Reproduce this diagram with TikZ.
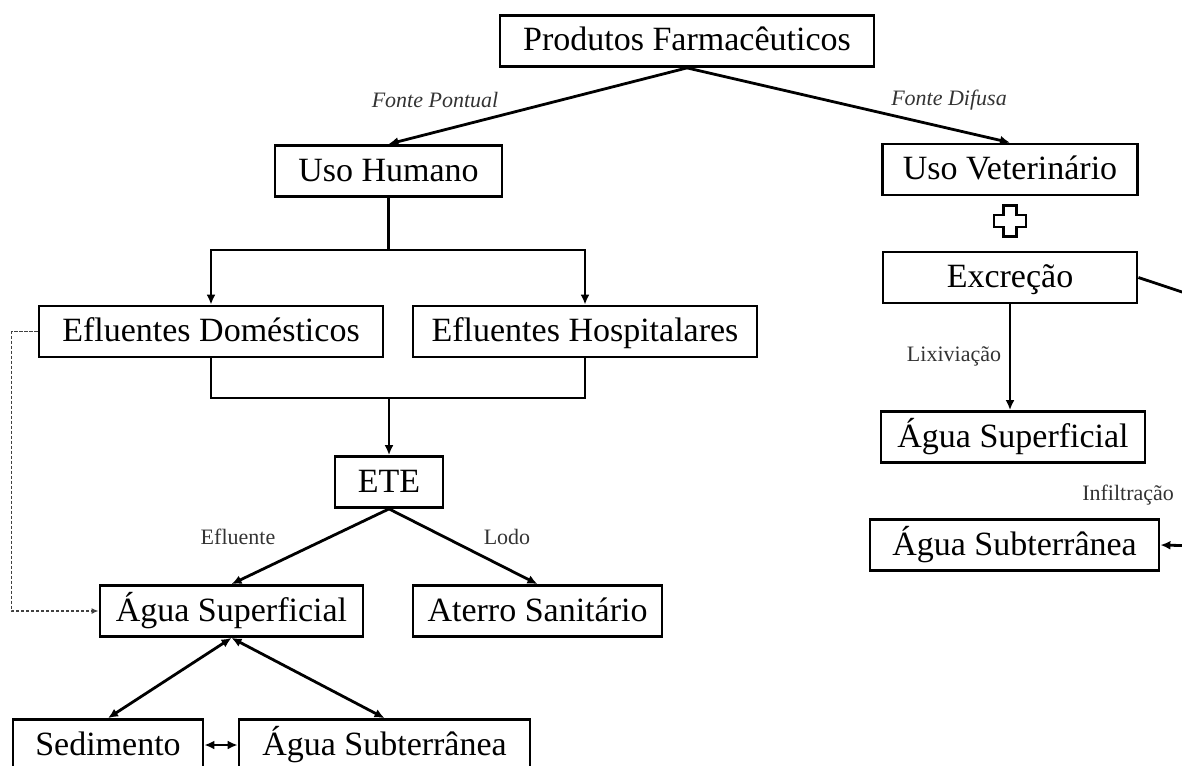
\documentclass[tikz,border=0pt]{standalone}
\usepackage{fontspec}
\setmainfont{Liberation Serif}
\usetikzlibrary{arrows.meta}

\begin{document}
\begin{tikzpicture}[x=0.5pt,y=-0.5pt,
    caixa/.style={draw,line width=1.4pt,minimum height=25.5pt,inner sep=0pt,
      text height=12.75pt,text depth=2.75pt,font=\fontsize{17}{20}\selectfont},
    rotulo/.style={text=black!80,font=\fontsize{11}{13}\selectfont},
    rotuloit/.style={text=black!80,font=\fontsize{11}{13}\selectfont\itshape},
    seta/.style={-{Latex[length=5pt,width=4.5pt]},line width=1.4pt},
    setadupla/.style={{Latex[length=5pt,width=4.5pt]}-{Latex[length=5pt,width=4.5pt]},line width=1.4pt},
    tracejado/.style={-{Latex[length=3.5pt,width=3pt]},line width=0.7pt,dash pattern=on 1.6pt off 0.9pt,black!75}]
  \useasboundingbox (0,0) rectangle (1182,765);
  \draw
    (687,41) node[caixa,minimum width=187pt] (prod) {Produtos Farmacêuticos}
    (388.5,171) node[caixa,minimum width=113.5pt] (usoH) {Uso Humano}
    (1010,169.5) node[caixa,minimum width=127.5pt] (usoV) {Uso Veterinário}
    (1010,277.5) node[caixa,minimum width=127pt] (excr) {Excreção}
    (1013,437) node[caixa,minimum width=132pt] (supR) {Água Superficial}
    (1014.5,545) node[caixa,minimum width=144.5pt] (subR) {Água Subterrânea}
    (211,331.5) node[caixa,minimum width=172pt] (eflD) {Efluentes Domésticos}
    (585,331.5) node[caixa,minimum width=172pt] (eflH) {Efluentes Hospitalares}
    (389,482) node[caixa,minimum width=54pt] (ete) {ETE}
    (231.5,611) node[caixa,minimum width=131.5pt] (supL) {Água Superficial}
    (537.5,611) node[caixa,minimum width=124.5pt] (aterro) {Aterro Sanitário}
    (108,745) node[caixa,minimum width=95pt] (sed) {Sedimento}
    (384.5,745) node[caixa,minimum width=145.5pt] (subL) {Água Subterrânea};
  \draw
    (435,100) node[rotuloit] (fp) {Fonte Pontual}
    (949,100) node[rotuloit] (fd) {Fonte Difusa}
    (954,356) node[rotulo] (lix) {Lixiviação}
    (1181,495) node[rotulo,anchor=east] (inf) {Infiltração}
    (238,537) node[rotulo] (efl) {Efluente}
    (507,537) node[rotulo] (lodo) {Lodo};
  % sinal de mais
  \draw[line width=1.2pt] (1003.5,205.5) -- (1016.5,205.5) -- (1016.5,215) -- (1026,215)
    -- (1026,227) -- (1016.5,227) -- (1016.5,236.5) -- (1003.5,236.5) -- (1003.5,227)
    -- (994,227) -- (994,215) -- (1003.5,215) -- cycle;
  \coordinate (j1) at (388.5,250);
  \coordinate (j2) at (389,398);
  \coordinate (exR) at (1200,298);
  \coordinate (inR) at (1200,546);
  \begin{scope}[seta]
    \draw (prod.south) to (usoH.north);
    \draw (prod.south) to (usoV.north);
    \draw[-] (usoH.south) to (j1);
    \draw (j1) -| (eflD.north);
    \draw (j1) -| (eflH.north);
    \draw[-] (eflD.south) |- (j2);
    \draw[-] (eflH.south) |- (j2);
    \draw (j2) to (ete.north);
    \draw (ete.south) to (supL.north);
    \draw (ete.south) to (aterro.north);
    \draw (excr.south) to (excr.south |- supR.north);
    \draw[-] (excr.east) to (exR);
    \draw (inR) to (subR.east);
  \end{scope}
  \begin{scope}[setadupla]
    \draw (supL.south) to (sed.north);
    \draw (supL.south) to (subL.north);
    \draw (sed.east) to (subL.west);
  \end{scope}
  \draw[tracejado] (eflD.west) -- ++(-26,0) |- (supL.west);
\end{tikzpicture}
\end{document}
